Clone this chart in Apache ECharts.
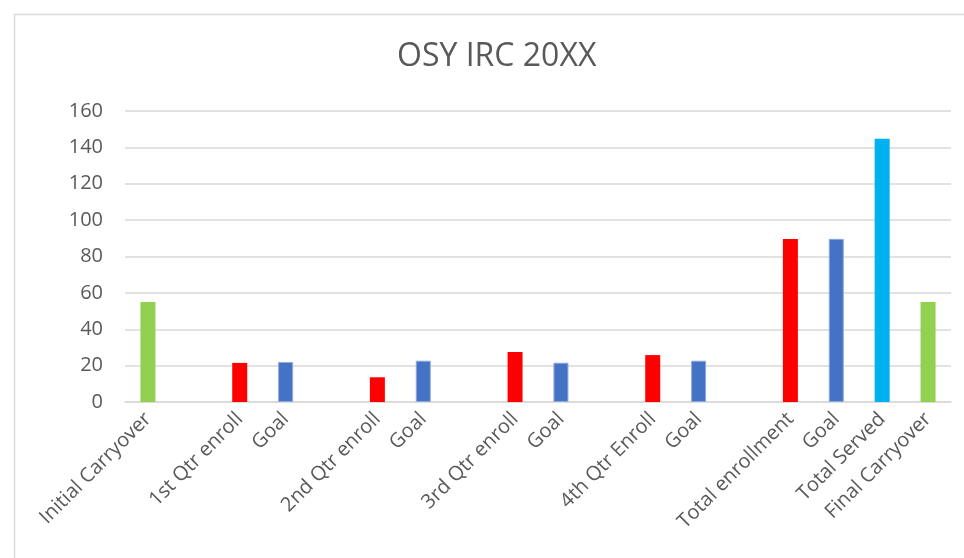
<!DOCTYPE html>
<html>
<head>
<meta charset="utf-8">
<script src="https://cdn.jsdelivr.net/npm/echarts@6/dist/echarts.min.js"></script>
<style>html,body{margin:0;padding:0;background:#fff;}#c{width:964px;height:558px;}</style>
</head>
<body>
<div id="c"></div>
<script>
var categories = ['Initial Carryover', '', '1st Qtr enroll', 'Goal', '', '2nd Qtr enroll', 'Goal', '', '3rd Qtr enroll', 'Goal', '', '4th Qtr Enroll', 'Goal', '', 'Total enrollment', 'Goal', 'Total Served', 'Final Carryover'];
var values = [55, null, 21.5, 22, null, 13.6, 22.7, null, 27.5, 21.6, null, 25.8, 22.7, null, 89.6, 89.7, 144.7, 55];
var barColors = ['#92D050', null, '#FF0000', '#4472C4', null, '#FF0000', '#4472C4', null, '#FF0000', '#4472C4', null, '#FF0000', '#4472C4', null, '#FF0000', '#4472C4', '#00B0F0', '#92D050'];
var yTicks = { min: 0, max: 160, interval: 20 };

var chart = echarts.init(document.getElementById('c'), null, { renderer: 'canvas' });
var data = values.map(function (v, i) {
  var c = barColors[i];
  var item = { value: v, itemStyle: { color: c } };
  if (c === '#4472C4') { item.itemStyle.borderColor = '#8FAADC'; item.itemStyle.borderWidth = 1; }
  return item;
});
chart.setOption({
  animation: false,
  backgroundColor: '#fff',
  textStyle: { fontFamily: 'Open Sans' },
  graphic: [{
    type: 'rect', shape: { x: 14.5, y: 14.5, width: 970, height: 570 },
    style: { fill: 'none', stroke: '#D9D9D9', lineWidth: 1.5 }, silent: true, z: -1
  }],
  title: {
    text: 'OSY IRC 20XX', left: 392, top: 36,
    textStyle: { fontFamily: 'Open Sans', fontSize: 32, fontWeight: 'normal', color: '#595959' }
  },
  grid: { left: 125, right: 13, top: 111, bottom: 156, containLabel: false },
  xAxis: {
    type: 'category', data: categories,
    axisLine: { show: true, lineStyle: { color: '#D9D9D9', width: 1.5 } },
    axisTick: { show: false },
    axisLabel: { interval: 0, rotate: 45, margin: 14, color: '#595959', fontSize: 20, fontFamily: 'Open Sans' }
  },
  yAxis: {
    type: 'value', min: yTicks.min, max: yTicks.max, interval: yTicks.interval,
    axisLine: { show: false }, axisTick: { show: false },
    splitLine: { lineStyle: { color: '#D9D9D9', width: 1.5 } },
    axisLabel: { margin: 22, color: '#595959', fontSize: 20, fontFamily: 'Open Sans' }
  },
  series: [{
    type: 'bar', data: data, barWidth: 15
  }]
});
</script>
</body>
</html>
